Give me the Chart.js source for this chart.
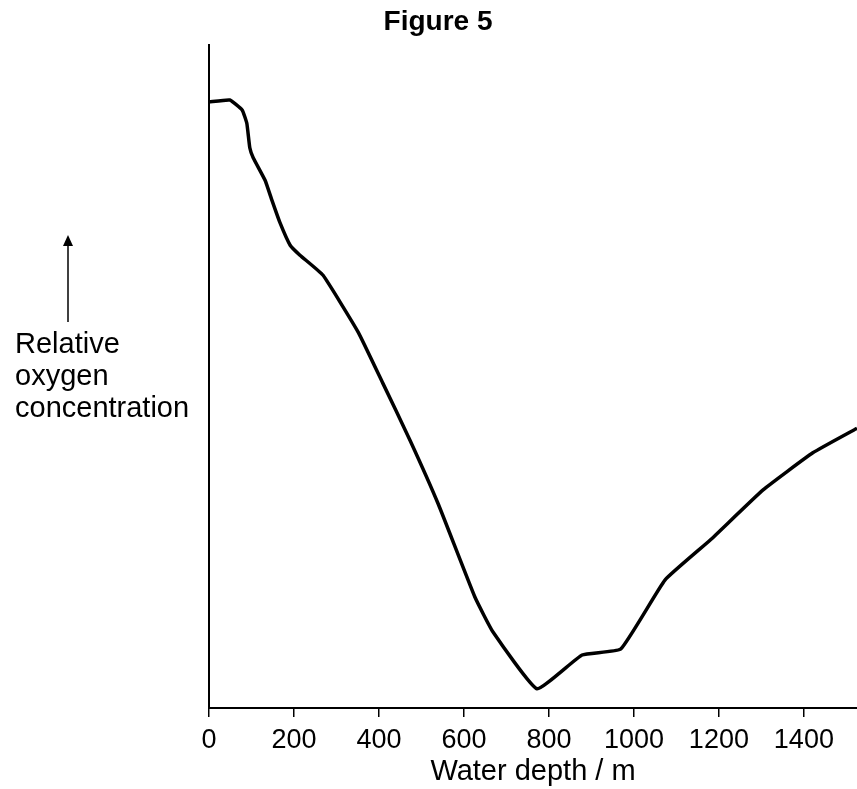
<!DOCTYPE html>
<html>
<head>
<meta charset="utf-8">
<script src="https://cdn.jsdelivr.net/npm/chart.js@4.4.0/dist/chart.umd.min.js"></script>
<style>
  html, body { margin: 0; padding: 0; background: #fff; }
  #wrap { width: 857px; height: 789px; }
</style>
</head>
<body>
<div id="wrap"><canvas id="chart"></canvas></div>
<script>
// water depth (m)
const depths = [0, 49, 78, 89, 96, 104, 132, 148, 167, 191, 214, 268, 351, 409, 473, 540, 626, 668, 772, 878, 969, 1073, 1179, 1304, 1421, 1525];
// relative oxygen concentration (0 = x axis, 100 = top of y axis)
const oxygen = [91.4, 91.7, 90.2, 88.2, 84.5, 83.0, 79.6, 76.6, 73.2, 69.8, 68.3, 65.3, 56.7, 49.0, 40.4, 30.7, 16.7, 11.5, 2.9, 8.0, 8.9, 19.3, 25.3, 32.9, 38.5, 42.2];
const xTicks = [0, 200, 400, 600, 800, 1000, 1200, 1400];

const FONT = "'Liberation Sans', Arial, sans-serif";

// title, y label and arrow are drawn by hand like the original figure
const extras = {
  id: 'extras',
  afterDraw(chart) {
    const ctx = chart.ctx;
    ctx.save();
    ctx.fillStyle = '#000';
    ctx.strokeStyle = '#000';
    ctx.textBaseline = 'alphabetic';

    ctx.font = 'bold 28px ' + FONT;
    ctx.textAlign = 'center';
    ctx.fillText('Figure 5', 438, 30);

    ctx.font = '29px ' + FONT;
    ctx.textAlign = 'left';
    ctx.fillText('Relative', 15, 353);
    ctx.fillText('oxygen', 15, 385);
    ctx.fillText('concentration', 15, 417);

    ctx.lineWidth = 1.5;
    ctx.beginPath();
    ctx.moveTo(68, 322);
    ctx.lineTo(68, 245);
    ctx.stroke();
    ctx.beginPath();
    ctx.moveTo(68, 235);
    ctx.lineTo(63, 246);
    ctx.lineTo(73, 246);
    ctx.closePath();
    ctx.fill();
    ctx.restore();
  }
};

new Chart(document.getElementById('chart'), {
  type: 'line',
  data: {
    datasets: [{
      data: depths.map((d, i) => ({ x: d, y: oxygen[i] })),
      borderColor: '#000',
      borderWidth: 3.5,
      pointRadius: 0,
      fill: false,
      tension: 0.12
    }]
  },
  options: {
    responsive: true,
    maintainAspectRatio: false,
    animation: false,
    layout: { padding: { top: 45, right: 0, left: 0, bottom: 0 } },
    plugins: {
      legend: { display: false },
      tooltip: { enabled: false }
    },
    scales: {
      x: {
        type: 'linear',
        min: 0,
        max: 1525,
        afterFit(scale) { scale.height = 81; },
        afterBuildTicks(scale) { scale.ticks = xTicks.map(v => ({ value: v })); },
        ticks: {
          color: '#000',
          font: { family: FONT, size: 27 },
          padding: 7,
          maxRotation: 0,
          callback: v => String(v)
        },
        grid: { drawOnChartArea: false, drawTicks: true, tickLength: 9, color: '#000', lineWidth: 1.5 },
        border: { display: true, color: '#000', width: 2 },
        title: {
          display: true,
          text: 'Water depth / m',
          color: '#000',
          font: { family: FONT, size: 29 },
          padding: { top: 0, bottom: 0 }
        }
      },
      y: {
        type: 'linear',
        min: 0,
        max: 100,
        afterFit(scale) { scale.width = 209; },
        ticks: { display: false },
        grid: { display: false },
        border: { display: true, color: '#000', width: 2 }
      }
    }
  },
  plugins: [extras]
});
</script>
</body>
</html>
